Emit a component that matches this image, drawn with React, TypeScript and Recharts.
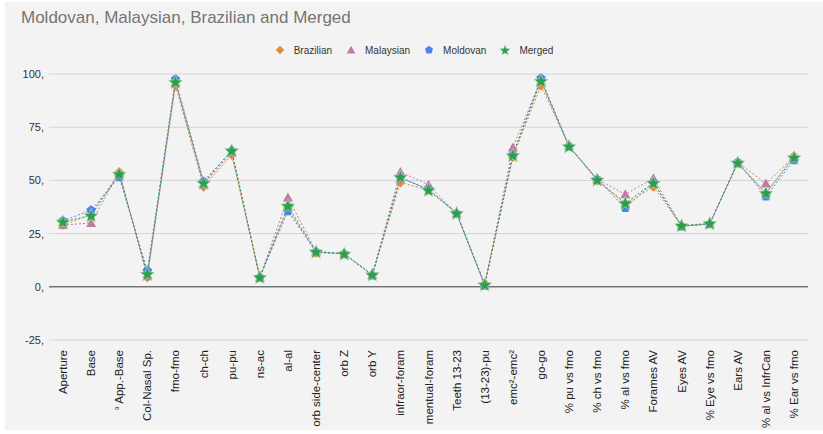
import React from "react";
import { LineChart, Line, XAxis, YAxis, CartesianGrid, ReferenceLine, Legend } from "recharts";

const categories = ["Aperture","Base","° App.-Base","Col-Nasal Sp.","fmo-fmo","ch-ch","pu-pu","ns-ac","al-al","orb side-center","orb Z","orb Y","infraor-foram","mentual-foram","Teeth 13-23","(13-23)-pu","emc²-emc²","go-go","% pu vs fmo","% ch vs fmo","% al vs fmo","Forames AV","Eyes AV","% Eye vs fmo","Ears AV","% al vs InfrCan","% Ear vs fmo"];
const brazilian = [29,34,54,4.5,94.5,47,62,4.5,37,16,15.5,5.5,49,45.5,34.5,1.5,61,94.5,66,50,39,47,28.5,29.5,58,44,61.5];
const malaysian = [29,30,54,5,96,48,63,4.5,42,16.5,15.5,5.5,54,48,34.5,1,65.5,97,66,50.5,43.5,51,28.5,29.5,58.5,48.5,61];
const moldovan = [31,36,51.5,7.5,97.5,49.5,64,4.5,35.5,16.5,15.5,5.5,51,46,34.5,0.5,62,98,66,50.5,37,49,28.5,29.5,58.5,42.5,59.5];
const merged = [30.5,33.5,53,6,96.2,48.8,64,4.5,38,16.5,15.5,5.7,51.6,45.5,34.6,1,61.8,96.7,66,50.3,39.3,48.8,28.8,29.8,58.3,44,60.7];
const yTicks = [-25,0,25,50,75,100];

const data = categories.map((c, i) => ({
  name: c,
  Brazilian: brazilian[i],
  Malaysian: malaysian[i],
  Moldovan: moldovan[i],
  Merged: merged[i],
}));

const COLORS = { Brazilian: "#e8893a", Malaysian: "#c27ba0", Moldovan: "#4a86e8", Merged: "#2e9e4a" };
const SERIES = ["Brazilian", "Malaysian", "Moldovan", "Merged"] as const;

const starPoints = (cx: number, cy: number, R: number, r: number) => {
  const pts: string[] = [];
  for (let i = 0; i < 10; i++) {
    const rad = i % 2 === 0 ? R : r;
    const a = -Math.PI / 2 + (i * Math.PI) / 5;
    pts.push(`${cx + rad * Math.cos(a)},${cy + rad * Math.sin(a)}`);
  }
  return pts.join(" ");
};
const polyPoints = (cx: number, cy: number, R: number, n: number) => {
  const pts: string[] = [];
  for (let i = 0; i < n; i++) {
    const a = -Math.PI / 2 + (i * 2 * Math.PI) / n;
    pts.push(`${cx + R * Math.cos(a)},${cy + R * Math.sin(a)}`);
  }
  return pts.join(" ");
};

const Marker = ({ kind, cx, cy, small }: { kind: string; cx: number; cy: number; small?: boolean }) => {
  const s = small ? 0.85 : 1;
  if (kind === "Brazilian")
    return <polygon points={`${cx},${cy - 5 * s} ${cx + 5 * s},${cy} ${cx},${cy + 5 * s} ${cx - 5 * s},${cy}`} fill={COLORS.Brazilian} />;
  if (kind === "Malaysian")
    return <polygon points={`${cx},${cy - 5 * s} ${cx + 5 * s},${cy + 4 * s} ${cx - 5 * s},${cy + 4 * s}`} fill={COLORS.Malaysian} />;
  if (kind === "Moldovan")
    return <polygon points={polyPoints(cx, cy, 5 * s, 5)} fill={COLORS.Moldovan} />;
  return <polygon points={starPoints(cx, cy + 0.5, 7.5 * (small ? 0.75 : 1), 3.2 * (small ? 0.75 : 1))} fill={COLORS.Merged} stroke="#bfe3c6" strokeWidth={0.6} />;
};

const mkDot = (kind: string) => (p: any) => {
  if (p.cx == null || p.cy == null) return <g key={`${kind}-${p.index}`} />;
  return <Marker key={`${kind}-${p.index}`} kind={kind} cx={p.cx} cy={p.cy} />;
};

const XTick = (props: any) => {
  const { x, y, payload } = props;
  return (
    <text x={0} y={0} transform={`translate(${x + 4},${y + 2}) rotate(-90)`} textAnchor="end" fontSize={11.5} fill="#222" fontFamily="Liberation Sans, Arial, sans-serif">
      {payload.value}
    </text>
  );
};

const LegendContent = () => (
  <div style={{ display: "flex", justifyContent: "center", alignItems: "center", fontFamily: "Liberation Sans, Arial, sans-serif", fontSize: 10, color: "#333", paddingLeft: 4 }}>
    {SERIES.map((k, i) => (
      <div key={k} style={{ display: "flex", alignItems: "center", marginRight: i === SERIES.length - 1 ? 0 : 13 }}>
        <svg width={12} height={12} style={{ marginRight: 8 }}>
          <Marker kind={k} cx={6} cy={6} small />
        </svg>
        <span>{k}</span>
      </div>
    ))}
  </div>
);

export default function App() {
  return (
    <div style={{ position: "absolute", left: 0, top: 0, width: 823, height: 434, background: "#fff" }}>
      <div style={{ position: "absolute", left: 5, top: 2, width: 818, height: 428, background: "#f3f3f3" }} />
      <div style={{ position: "absolute", left: 21, top: 8, fontFamily: "Liberation Sans, Arial, sans-serif", fontSize: 17, color: "#757575" }}>
        Moldovan, Malaysian, Brazilian and Merged
      </div>
      <div style={{ position: "absolute", left: 0, top: 0 }}>
        <LineChart width={823} height={434} data={data} margin={{ top: 62, right: 15, bottom: 4, left: 0 }}>
          <CartesianGrid vertical={false} stroke="#d4d4d4" />
          <XAxis dataKey="name" interval={0} axisLine={false} tickLine={false} height={90} padding={{ left: 14, right: 14 }} tick={<XTick />} />
          <YAxis domain={[-25, 100]} ticks={yTicks} width={49} axisLine={false} tickLine={false} tickFormatter={(v: number) => `${v},`} tick={{ fontSize: 11, fill: "#333", fontFamily: "Liberation Sans, Arial, sans-serif", dx: 3 }} />
          <ReferenceLine y={0} stroke="#444" strokeWidth={1} />
          <Legend verticalAlign="top" content={<LegendContent />} wrapperStyle={{ top: 44, left: 0, width: 823 }} />
          {SERIES.map((k) => (
            <Line key={k} type="linear" dataKey={k} stroke={COLORS[k]} strokeWidth={1} strokeDasharray="2 2" dot={mkDot(k)} activeDot={false} isAnimationActive={false} />
          ))}
        </LineChart>
      </div>
    </div>
  );
}
